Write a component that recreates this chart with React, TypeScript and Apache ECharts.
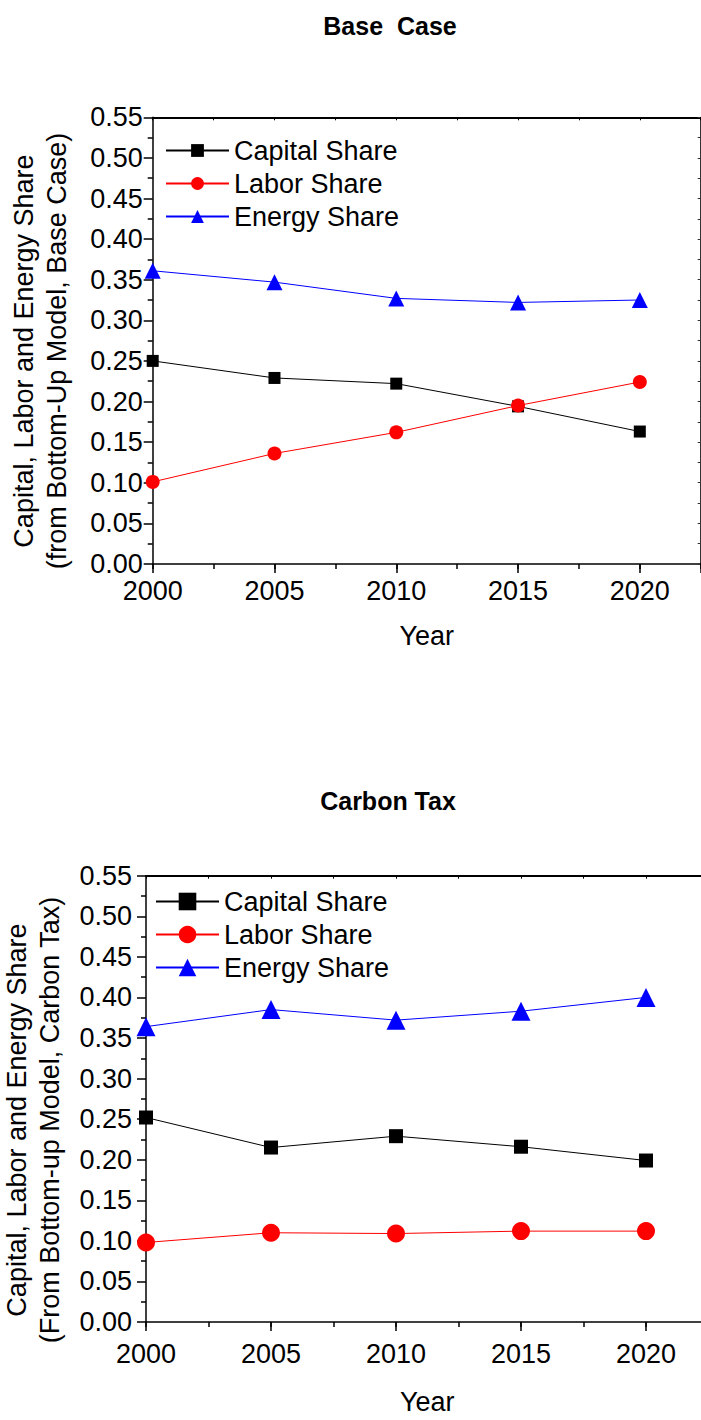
import React, { useEffect, useRef } from "react";
import * as echarts from "echarts";

const years = [2000, 2005, 2010, 2015, 2020];
const seriesNames = ["Capital Share", "Labor Share", "Energy Share"];
const yTicks = ["0.00", "0.05", "0.10", "0.15", "0.20", "0.25", "0.30", "0.35", "0.40", "0.45", "0.50", "0.55"];

const baseCapital = [0.25, 0.229, 0.222, 0.194, 0.163];
const baseLabor = [0.101, 0.136, 0.162, 0.195, 0.224];
const baseEnergy = [0.361, 0.347, 0.327, 0.322, 0.325];

const taxCapital = [0.252, 0.215, 0.229, 0.216, 0.199];
const taxLabor = [0.098, 0.11, 0.109, 0.112, 0.112];
const taxEnergy = [0.364, 0.385, 0.372, 0.383, 0.4];

const FONT = "'Liberation Sans', Arial, Helvetica, sans-serif";

type Cfg = {
  title: string;
  titleX: number;
  titleY: number;
  yTitle: string;
  yTitleX: number;
  yTitleY: number;
  grid: { left: number; top: number; width: number; height: number };
  yLabelMargin: number;
  xLabelMargin: number;
  nameGap: number;
  legendLeft: number;
  legendTop: number;
  legendItemHeight: number;
  sizes: number[];
  data: number[][];
};

function makeOption(c: Cfg): any {
  const colors = ["#000000", "#ff0000", "#0000ff"];
  const symbols = ["rect", "circle", "triangle"];
  const fmtYear = (v: number) => (v % 5 === 0 ? String(v) : "");
  return {
    animation: false,
    backgroundColor: "#ffffff",
    textStyle: { fontFamily: FONT },
    grid: { ...c.grid, containLabel: false },
    legend: {
      orient: "vertical",
      left: c.legendLeft,
      top: c.legendTop,
      padding: 0,
      itemWidth: 63,
      itemHeight: c.legendItemHeight,
      itemGap: 6,
      selectedMode: false,
      textStyle: { fontSize: 27, color: "#000", fontFamily: FONT },
      data: seriesNames,
    },
    xAxis: [
      {
        type: "value",
        position: "bottom",
        min: 2000,
        max: 2022.5,
        interval: 5,
        name: "Year",
        nameLocation: "middle",
        nameGap: c.nameGap,
        nameTextStyle: { fontSize: 27, color: "#000", fontFamily: FONT },
        axisLine: { show: true, lineStyle: { color: "#000", width: 1.5 } },
        axisTick: { show: true, inside: false, length: 9, lineStyle: { color: "#000", width: 1.5 } },
        axisLabel: { fontSize: 27, color: "#000", margin: c.xLabelMargin, formatter: fmtYear, fontFamily: FONT },
        splitLine: { show: false },
      },
      {
        type: "value",
        position: "bottom",
        min: 2000,
        max: 2022.5,
        interval: 2.5,
        axisLine: { show: false },
        axisTick: { show: true, inside: false, length: 5, lineStyle: { color: "#000", width: 1.5 } },
        axisLabel: { show: false },
        splitLine: { show: false },
      },
      {
        type: "value",
        position: "top",
        min: 2000,
        max: 2022.5,
        interval: 2.5,
        axisLine: { show: true, lineStyle: { color: "#000", width: 2 } },
        axisTick: { show: true, inside: true, length: 3, lineStyle: { color: "#000", width: 1 } },
        axisLabel: { show: false },
        splitLine: { show: false },
      },
    ],
    yAxis: [
      {
        type: "value",
        position: "left",
        min: 0,
        max: 0.55,
        interval: 0.05,
        axisLine: { show: true, lineStyle: { color: "#000", width: 1.5 } },
        axisTick: { show: true, inside: false, length: 9, lineStyle: { color: "#000", width: 1.5 } },
        minorTick: { show: true, splitNumber: 2, length: 5, lineStyle: { color: "#000", width: 1.5 } },
        axisLabel: {
          fontSize: 27,
          color: "#000",
          margin: c.yLabelMargin,
          fontFamily: FONT,
          formatter: (v: number) => yTicks[Math.round(v / 0.05)] ?? "",
        },
        splitLine: { show: false },
        minorSplitLine: { show: false },
      },
      {
        type: "value",
        position: "right",
        min: 0,
        max: 0.55,
        interval: 0.025,
        axisLine: { show: true, lineStyle: { color: "#333", width: 1 } },
        axisTick: { show: true, inside: true, length: 3, lineStyle: { color: "#333", width: 1 } },
        axisLabel: { show: false },
        splitLine: { show: false },
      },
    ],
    graphic: [
      {
        type: "text",
        x: c.titleX,
        y: c.titleY,
        style: {
          text: c.title,
          fontSize: 25,
          fontWeight: "bold",
          fontFamily: FONT,
          fill: "#000",
          align: "center",
          verticalAlign: "middle",
        },
      },
      {
        type: "text",
        x: c.yTitleX,
        y: c.yTitleY,
        rotation: Math.PI / 2,
        style: {
          text: c.yTitle,
          fontSize: 27,
          lineHeight: 33,
          fontFamily: FONT,
          fill: "#000",
          align: "center",
          verticalAlign: "middle",
        },
      },
    ],
    series: seriesNames.map((name, i) => ({
      name,
      type: "line",
      xAxisIndex: 0,
      yAxisIndex: 0,
      data: years.map((y, j) => [y, c.data[i][j]]),
      symbol: symbols[i],
      symbolSize: c.sizes[i],
      showAllSymbol: true,
      clip: false,
      lineStyle: { color: colors[i], width: 1 },
      itemStyle: { color: colors[i] },
      z: 2 + i,
    })),
  };
}

const topCfg: Cfg = {
  title: "Base  Case",
  titleX: 390,
  titleY: 25.5,
  yTitle: "Capital, Labor and Energy Share\n(from Bottom-Up Model, Base Case)",
  yTitleX: 40,
  yTitleY: 351,
  grid: { left: 152.7, top: 117.3, width: 548, height: 446.6 },
  yLabelMargin: 10,
  xLabelMargin: 14,
  nameGap: 59,
  legendLeft: 165,
  legendTop: 137,
  legendItemHeight: 16,
  sizes: [12, 14, 16],
  data: [baseCapital, baseLabor, baseEnergy],
};

const bottomCfg: Cfg = {
  title: "Carbon Tax",
  titleX: 388,
  titleY: 100.5,
  yTitle: "Capital, Labor and Energy Share\n(From Bottom-up Model, Carbon Tax)",
  yTitleX: 33,
  yTitleY: 420,
  grid: { left: 146, top: 175.7, width: 562.5, height: 458.6 },
  yLabelMargin: 14,
  xLabelMargin: 18,
  nameGap: 66,
  legendLeft: 155,
  legendTop: 188,
  legendItemHeight: 22,
  sizes: [14, 18, 19],
  data: [taxCapital, taxLabor, taxEnergy],
};

function Chart({ cfg, height }: { cfg: Cfg; height: number }) {
  const ref = useRef<HTMLDivElement>(null);
  useEffect(() => {
    if (!ref.current) return;
    const chart = echarts.init(ref.current, undefined, { renderer: "svg" });
    chart.setOption(makeOption(cfg));
    return () => chart.dispose();
  }, [cfg]);
  return <div ref={ref} style={{ width: 740, height }} />;
}

export default function App() {
  return (
    <div style={{ position: "absolute", left: 0, top: 0, width: 701, height: 1420, background: "#fff", overflow: "hidden" }}>
      <Chart cfg={topCfg} height={700} />
      <Chart cfg={bottomCfg} height={720} />
    </div>
  );
}
